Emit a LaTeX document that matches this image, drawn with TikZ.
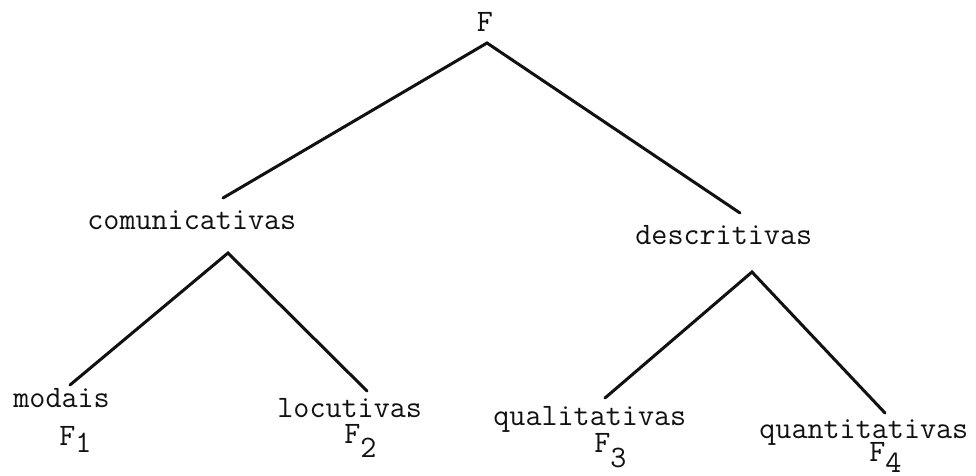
\documentclass[tikz,border=0pt]{standalone}
\usepackage{fontspec}
\usepackage{tikz}
\usetikzlibrary{positioning}
\definecolor{ink}{HTML}{111111}
\newcommand{\Fsub}[2]{F\raisebox{-#1}{#2}}
\tikzset{
  word/.style={
    inner sep=0pt, anchor=base west, text=ink,
    font=\ttfamily\fontsize{15.6}{18}\selectfont,
  },
  branch/.style={line width=1.5pt, draw=ink, line cap=round},
}

\begin{document}
\begin{tikzpicture}[x=0.5pt, y=-0.5pt]

  \useasboundingbox[fill=white] (0,0) rectangle (976,476);

  % root and first level
  \node[word, anchor=base] (root) at (485,32) {F};
  \node[word] (comm) at (87,229) {comunicativas};
  \node[word] (desc) at (635,244) {descritivas};

  % leaves
  \node[word] (modais) at (13,408) {modais};
  \node[word] (locut) at (277,417) {locutivas};
  \node[word] (quali) at (493,425) {qualitativas};
  \node[word] (quant) at (759,438) {quantitativas};
  \node[word] (f1) at (59,445) {\Fsub{3.5pt}{1}};
  \node[word] (f2) at (344,443) {\Fsub{7pt}{2}};
  \node[word] (f3) at (594,452) {\Fsub{7.5pt}{3}};
  \node[word] (f4) at (869,461) {\Fsub{5.5pt}{4}};

  % branch points
  \coordinate (root-fork) at (487,43);
  \coordinate (comm-fork) at (228,253);
  \coordinate (desc-fork) at (752,272);
  \coordinate (comm-top) at (223,198);
  \coordinate (desc-top) at (740,213);
  \coordinate (modais-top) at (70,385);
  \coordinate (locut-top) at (367,391);
  \coordinate (quali-top) at (605,398);
  \coordinate (quant-top) at (885,413);

  \draw[branch] (comm-top) -- (root-fork) -- (desc-top);
  \draw[branch] (modais-top) -- (comm-fork) -- (locut-top);
  \draw[branch] (quali-top) -- (desc-fork) -- (quant-top);

\end{tikzpicture}
\end{document}
